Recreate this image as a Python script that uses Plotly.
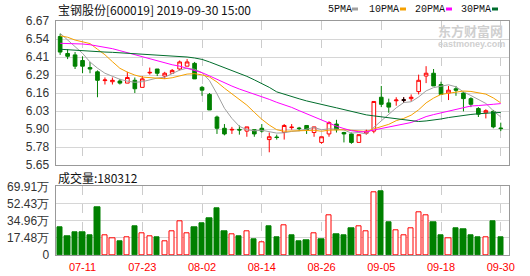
import plotly.graph_objects as go

# ---------------- data ----------------
dates = ["07-08","07-09","07-10","07-11","07-12","07-15","07-16","07-17","07-18","07-19",
         "07-22","07-23","07-24","07-25","07-26","07-29","07-30","07-31","08-01","08-02",
         "08-05","08-06","08-07","08-08","08-09","08-12","08-13","08-14","08-15","08-16",
         "08-19","08-20","08-21","08-22","08-23","08-26","08-27","08-28","08-29","08-30",
         "09-02","09-03","09-04","09-05","09-06","09-09","09-10","09-11","09-12","09-16",
         "09-17","09-18","09-19","09-20","09-23","09-24","09-25","09-26","09-27","09-30"]

opens = [6.56, 6.44, 6.43, 6.39, 6.34, 6.31, 6.248, 6.24, 6.245, 6.23,
         6.25, 6.20, 6.302, 6.33, 6.28, 6.30, 6.33, 6.35, 6.37, 6.20,
         6.15, 5.99, 5.91, 5.898, 5.902, 5.89, 5.90, 5.91, 5.83, 5.848,
         5.88, 5.915, 5.912, 5.93, 5.88, 5.81, 5.87, 5.94, 5.88, 5.87,
         5.81, 5.875, 5.89, 6.13, 6.09, 6.105, 6.11, 6.12, 6.17, 6.28,
         6.30, 6.22, 6.16, 6.19, 6.16, 6.12, 6.05, 6.02, 6.03, 5.912]
highs = [6.58, 6.47, 6.45, 6.42, 6.38, 6.32, 6.27, 6.27, 6.26, 6.31,
         6.27, 6.28, 6.34, 6.33, 6.31, 6.33, 6.39, 6.40, 6.38, 6.21,
         6.16, 6.00, 5.94, 5.92, 5.93, 5.92, 5.90, 5.94, 5.88, 5.865,
         5.94, 5.94, 5.92, 5.93, 5.92, 5.85, 5.96, 5.97, 5.885, 5.88,
         5.865, 5.90, 6.10, 6.21, 6.12, 6.13, 6.13, 6.15, 6.29, 6.35,
         6.33, 6.24, 6.21, 6.21, 6.17, 6.13, 6.06, 6.045, 6.04, 5.95]
lows = [6.43, 6.40, 6.33, 6.30, 6.30, 6.13, 6.22, 6.22, 6.22, 6.23,
        6.16, 6.20, 6.29, 6.28, 6.26, 6.30, 6.32, 6.35, 6.26, 6.14,
        6.04, 5.87, 5.86, 5.87, 5.865, 5.85, 5.85, 5.88, 5.74, 5.83,
        5.83, 5.90, 5.89, 5.87, 5.85, 5.80, 5.85, 5.88, 5.81, 5.80,
        5.81, 5.865, 5.875, 6.06, 6.02, 6.07, 6.09, 6.10, 6.15, 6.23,
        6.21, 6.15, 6.11, 6.14, 6.03, 6.06, 5.99, 5.98, 5.91, 5.89]
closes = [6.45, 6.42, 6.35, 6.35, 6.33, 6.25, 6.252, 6.25, 6.23, 6.27,
          6.19, 6.26, 6.306, 6.30, 6.30, 6.32, 6.38, 6.38, 6.26, 6.18,
          6.04, 5.91, 5.87, 5.902, 5.898, 5.92, 5.87, 5.89, 5.85, 5.845,
          5.93, 5.918, 5.908, 5.90, 5.92, 5.85, 5.95, 5.90, 5.87, 5.81,
          5.865, 5.89, 6.10, 6.08, 6.06, 6.11, 6.11, 6.13, 6.25, 6.30,
          6.21, 6.15, 6.18, 6.18, 6.12, 6.08, 6.01, 6.035, 5.92, 5.908]

ma5 = [6.583, 6.535, 6.488, 6.441, 6.380, 6.336, 6.300, 6.278, 6.257, 6.244,
       6.236, 6.240, 6.252, 6.266, 6.272, 6.298, 6.322, 6.336, 6.328, 6.304,
       6.248, 6.154, 6.052, 5.980, 5.924, 5.900, 5.892, 5.896, 5.886, 5.876,
       5.878, 5.888, 5.892, 5.902, 5.916, 5.900, 5.906, 5.904, 5.898, 5.876,
       5.880, 5.870, 5.915, 5.960, 6.010, 6.055, 6.092, 6.098, 6.132, 6.175,
       6.198, 6.208, 6.218, 6.204, 6.168, 6.142, 6.114, 6.086, 6.034, 5.990]
ma10 = [6.565, 6.555, 6.535, 6.521, 6.510, 6.470, 6.431, 6.382, 6.335, 6.308,
        6.287, 6.273, 6.269, 6.264, 6.261, 6.268, 6.281, 6.294, 6.297, 6.288,
        6.273, 6.238, 6.194, 6.154, 6.114, 6.074, 6.023, 5.974, 5.933, 5.900,
        5.889, 5.890, 5.894, 5.894, 5.896, 5.889, 5.897, 5.898, 5.900, 5.896,
        5.890, 5.887, 5.906, 5.924, 5.938, 5.964, 5.980, 6.003, 6.041, 6.090,
        6.124, 6.150, 6.158, 6.168, 6.174, 6.171, 6.161, 6.152, 6.125, 6.090]
ma20 = [6.512, 6.512, 6.510, 6.507, 6.502, 6.493, 6.488, 6.474, 6.460, 6.445,
        6.431, 6.417, 6.403, 6.389, 6.375, 6.360, 6.350, 6.335, 6.320, 6.304,
        6.281, 6.256, 6.232, 6.209, 6.188, 6.171, 6.152, 6.134, 6.115, 6.094,
        6.078, 6.058, 6.035, 6.012, 5.990, 5.966, 5.945, 5.925, 5.908, 5.893,
        5.886, 5.885, 5.898, 5.908, 5.917, 5.927, 5.939, 5.951, 5.971, 5.993,
        6.007, 6.019, 6.032, 6.046, 6.056, 6.068, 6.071, 6.078, 6.080, 6.085]
ma30 = [6.470, 6.466, 6.462, 6.460, 6.455, 6.453, 6.450, 6.448, 6.445, 6.441,
        6.438, 6.434, 6.431, 6.428, 6.425, 6.422, 6.420, 6.415, 6.408, 6.398,
        6.380, 6.360, 6.342, 6.323, 6.302, 6.278, 6.253, 6.227, 6.200, 6.168,
        6.150, 6.134, 6.119, 6.104, 6.090, 6.077, 6.067, 6.055, 6.043, 6.028,
        6.017, 6.005, 5.998, 5.991, 5.983, 5.976, 5.967, 5.960, 5.958, 5.962,
        5.968, 5.976, 5.986, 5.995, 6.003, 6.008, 6.013, 6.018, 6.020, 6.022]

# volume in 万 (10k shares); vol_up: 1 = red (up), 0 = green (down)
volume = [28.5, 19.3, 23.4, 23.4, 20.4, 48.8, 20.0, 17.0, 14.2, 18.0,
          29.5, 22.4, 19.0, 18.3, 13.9, 24.4, 34.3, 22.4, 28.5, 32.6,
          37.7, 47.8, 24.4, 21.0, 19.3, 24.4, 16.3, 13.2, 29.5, 18.3,
          30.2, 20.4, 14.2, 15.3, 22.1, 16.3, 40.4, 21.4, 20.4, 27.5,
          29.2, 24.1, 63.8, 65.1, 33.6, 25.1, 20.0, 27.1, 43.4, 40.4,
          33.6, 20.4, 17.0, 27.5, 26.5, 20.4, 18.3, 18.3, 34.6, 18.0312]
vol_up = [0, 0, 0, 0, 0, 0, 1, 1, 0, 1,
          0, 1, 1, 0, 1, 1, 1, 1, 0, 0,
          0, 0, 0, 1, 0, 1, 0, 1, 0, 0,
          1, 0, 0, 0, 1, 0, 1, 0, 0, 0,
          1, 1, 1, 0, 0, 1, 1, 1, 1, 1,
          0, 0, 1, 0, 0, 0, 0, 1, 0, 0]

flat_idx = [46]   # unchanged day drawn in black

price_tickvals = [6.67, 6.5425, 6.415, 6.2875, 6.16, 6.0325, 5.905, 5.7775, 5.65]
price_ticktext = ["6.67", "6.54", "6.41", "6.29", "6.16", "6.03", "5.90", "5.78", "5.65"]
vol_tickvals = [0, 17.4775, 34.955, 52.4325, 69.91]
vol_ticktext = ["0", "17.48万", "34.96万", "52.43万", "69.91万"]
date_ticks = ["07-11", "07-23", "08-02", "08-14", "08-26", "09-05", "09-18", "09-30"]

title_text = "宝钢股份[600019] 2019-09-30 15:00"
vol_title = "成交量:180312"
ma_names = ["5PMA", "10PMA", "20PMA", "30PMA"]

# ---------------- style ----------------
W, H = 530, 276
RED = "#ff0000"
GREEN = "#008000"
MA_COLORS = ["#a0a0a0", "#f5a000", "#ff00ff", "#006d2c"]
GRID = "#d6d6d6"
FRAME = "#999999"
LABEL = "#333333"


def px(x):
    return x / W


def py(y):
    return 1 - y / H


X0, X1 = 55.5, 509
fig = go.Figure()

fig.add_trace(go.Candlestick(
    x=dates, open=opens, high=highs, low=lows, close=closes,
    increasing=dict(line=dict(color=RED, width=1), fillcolor="white"),
    decreasing=dict(line=dict(color=GREEN, width=1), fillcolor=GREEN),
    whiskerwidth=0, xaxis="x", yaxis="y", hoverinfo="skip"))

fig.add_trace(go.Candlestick(
    x=[dates[i] for i in flat_idx], open=[opens[i] for i in flat_idx],
    high=[highs[i] for i in flat_idx], low=[lows[i] for i in flat_idx],
    close=[closes[i] for i in flat_idx],
    increasing=dict(line=dict(color="black", width=1), fillcolor="black"),
    decreasing=dict(line=dict(color="black", width=1), fillcolor="black"),
    whiskerwidth=0, xaxis="x", yaxis="y", hoverinfo="skip"))

for vals, col in zip([ma5, ma10, ma20, ma30], MA_COLORS):
    fig.add_trace(go.Scatter(x=dates, y=vals, mode="lines",
                             line=dict(color=col, width=1),
                             xaxis="x", yaxis="y", hoverinfo="skip"))

fig.add_trace(go.Bar(
    x=dates, y=volume, width=0.7,
    marker=dict(color=["white" if u else GREEN for u in vol_up],
                line=dict(color=[RED if u else GREEN for u in vol_up], width=1)),
    xaxis="x2", yaxis="y2", hoverinfo="skip"))

common_x = dict(type="category", categoryorder="array", categoryarray=dates,
                range=[-0.62, 60.1], tickvals=date_ticks, showgrid=True,
                gridcolor="#cccccc", griddash="dash", gridwidth=1,
                showline=True, mirror=True, linecolor=FRAME, linewidth=1,
                zeroline=False, ticks="", fixedrange=True)
common_y = dict(showgrid=True, gridcolor=GRID, gridwidth=1, showline=True,
                mirror=True, linecolor=FRAME, linewidth=1, zeroline=False,
                ticks="", tickfont=dict(family="Liberation Sans", size=12, color=LABEL),
                ticklabelstandoff=3, fixedrange=True)

annotations = [
    dict(x=px(56), y=py(9), xref="paper", yref="paper", text=title_text,
         showarrow=False, xanchor="left", yanchor="middle",
         font=dict(family="Noto Sans CJK SC", size=12, color="#111111")),
    dict(x=px(56), y=py(177.5), xref="paper", yref="paper", text=vol_title,
         showarrow=False, xanchor="left", yanchor="middle",
         font=dict(family="Noto Sans CJK SC", size=12, color="#111111")),
    dict(x=px(437), y=py(30.5), xref="paper", yref="paper", text="<b>东方财富网</b>",
         showarrow=False, xanchor="left", yanchor="middle", borderpad=0,
         font=dict(family="Noto Sans CJK SC", size=13, color="#cfcfcf")),
    dict(x=px(437), y=py(44), xref="paper", yref="paper", text="<b>eastmoney.com</b>",
         showarrow=False, xanchor="left", yanchor="middle", borderpad=0,
         font=dict(family="Liberation Sans", size=9, color="#cfcfcf")),
]
shapes = []
legend_text_x = [325.5, 366.5, 412.5, 458.5]
legend_sq_x = [352, 400, 446, 492]
for name, tx, sx, col in zip(ma_names, legend_text_x, legend_sq_x, MA_COLORS):
    annotations.append(dict(x=px(tx), y=py(9), xref="paper", yref="paper", text=name,
                            showarrow=False, xanchor="left", yanchor="middle",
                            font=dict(family="Liberation Mono", size=10, color="#111111")))
    shapes.append(dict(type="rect", xref="paper", yref="paper",
                       x0=px(sx), x1=px(sx + 6), y0=py(10.5), y1=py(7.5),
                       fillcolor=col, line=dict(width=0)))

fig.update_layout(
    width=W, height=H, margin=dict(l=0, r=0, t=0, b=0),
    paper_bgcolor="white", plot_bgcolor="white", template="none",
    showlegend=False, bargap=0,
    xaxis=dict(domain=[px(X0), px(X1)], anchor="y", showticklabels=False,
               rangeslider=dict(visible=False), **common_x),
    yaxis=dict(domain=[py(165), py(21)], anchor="x", range=[5.65, 6.67],
               tickvals=price_tickvals, ticktext=price_ticktext, **common_y),
    xaxis2=dict(domain=[px(X0), px(X1)], anchor="y2", showticklabels=True,
                tickfont=dict(family="Liberation Sans", size=11, color=RED),
                ticklabelstandoff=2, **common_x),
    yaxis2=dict(domain=[py(255), py(186.3)], anchor="x2", range=[0, 69.91],
                tickvals=vol_tickvals, ticktext=vol_ticktext, **common_y),
    annotations=annotations, shapes=shapes,
)

fig.write_html("out.html")
